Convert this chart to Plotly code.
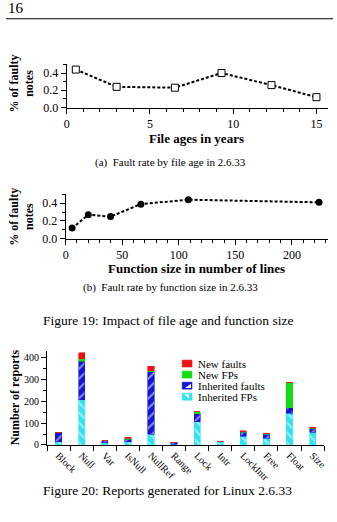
import plotly.graph_objects as go

# ---------------- data ----------------
page_number = "16"

age_years = [0.55, 3.0, 6.5, 9.3, 12.3, 15.0]
age_fault_rate = [0.44, 0.24, 0.23, 0.40, 0.26, 0.12]

func_size = [5.7, 20, 39.7, 66.5, 108.5, 224]
func_fault_rate = [0.12, 0.27, 0.25, 0.39, 0.44, 0.41]

categories = ["Block", "Null", "Var", "IsNull", "NullRef", "Range",
              "Lock", "Intr", "LockIntr", "Free", "Float", "Size"]
inherited_fps = [15, 207, 10, 14, 49, 3, 105, 14, 39, 30, 144, 57]
inherited_faults = [42, 175, 9, 13, 285, 9, 37, 3, 19, 19, 25, 17]
new_fps = [0, 12, 0, 3, 4, 0, 9, 0, 3, 4, 118, 2]
new_faults = [0, 27, 0, 5, 22, 0, 1, 0, 3, 1, 0, 4]

FONT = "Liberation Serif"
W, H = 337, 522
RED, GREEN, BLUE, CYAN = "#ee1111", "#11dd11", "#1414d8", "#30e2f2"


def px(x):
    return x / W


def py(y):
    return 1 - y / H


fig = go.Figure()

# (a) fault rate by file age
fig.add_trace(go.Scatter(
    x=age_years, y=age_fault_rate, mode="lines+markers",
    line=dict(color="black", width=2, dash="3px,2px"),
    marker=dict(symbol="square", size=7, color="white",
                line=dict(color="black", width=1)),
    xaxis="x", yaxis="y", showlegend=False))

# (b) fault rate by function size
fig.add_trace(go.Scatter(
    x=func_size, y=func_fault_rate, mode="lines+markers",
    line=dict(color="black", width=2, dash="3px,2px"),
    marker=dict(symbol="circle", size=7, color="black"),
    xaxis="x2", yaxis="y2", showlegend=False))

# (c) stacked bars
series = [
    ("Inherited FPs", inherited_fps, CYAN, "\\"),
    ("Inherited faults", inherited_faults, BLUE, "/"),
    ("New FPs", new_fps, GREEN, ""),
    ("New faults", new_faults, RED, ""),
]
for name, vals, col, shp in series:
    marker = dict(color=col, line=dict(color=col, width=0.6))
    if shp:
        marker["pattern"] = dict(shape=shp, fgcolor="white", bgcolor=col,
                                 size=7, solidity=0.28)
    fig.add_trace(go.Bar(
        x=categories, y=vals, name=name, width=0.27,
        marker=marker, xaxis="x3", yaxis="y3", showlegend=False))

axis_common = dict(showline=True, linecolor="black", linewidth=1,
                   ticks="outside", tickcolor="black", ticklen=5,
                   showgrid=False, zeroline=False,
                   tickfont=dict(family=FONT, size=12, color="black"))

fig.update_layout(
    width=W, height=H, margin=dict(l=0, r=0, t=0, b=0),
    paper_bgcolor="white", plot_bgcolor="white",
    barmode="stack", bargap=0.7,
    font=dict(family=FONT, color="black"),
    xaxis=dict(domain=[px(65), px(332)], anchor="y", range=[0, 15.7],
               tick0=0, dtick=5,
               minor=dict(dtick=1, ticks="outside", ticklen=3, tickcolor="black"),
               **axis_common),
    yaxis=dict(domain=[py(109), py(65)], anchor="x", range=[0, 0.503],
               tick0=0, dtick=0.2, tickformat=".1f",
               minor=dict(dtick=0.1, ticks="outside", ticklen=3, tickcolor="black"),
               **axis_common),
    xaxis2=dict(domain=[px(64), px(332)], anchor="y2", range=[0, 232],
                tick0=0, dtick=50,
                minor=dict(dtick=10, ticks="outside", ticklen=3, tickcolor="black"),
                **axis_common),
    yaxis2=dict(domain=[py(242), py(197)], anchor="x2", range=[0, 0.5],
                tick0=0, dtick=0.2, tickformat=".1f",
                minor=dict(dtick=0.1, ticks="outside", ticklen=3, tickcolor="black"),
                **axis_common),
    xaxis3=dict(domain=[px(45), px(328)], anchor="y3", type="category",
                range=[-0.5, 11.5], tickangle=45, tickson="boundaries",
                showline=True, linecolor="black", linewidth=1,
                ticks="outside", tickcolor="black", ticklen=5,
                showgrid=False, zeroline=False,
                tickfont=dict(family=FONT, size=10, color="black")),
    yaxis3=dict(domain=[py(451), py(356)], anchor="x3", range=[0, 428],
                tick0=0, dtick=100,
                minor=dict(dtick=50, ticks="outside", ticklen=3, tickcolor="black"),
                showline=True, linecolor="black", linewidth=1,
                ticks="outside", tickcolor="black", ticklen=5,
                showgrid=False, zeroline=False,
                tickfont=dict(family=FONT, size=10, color="black")),
)

ann = []


def text(x, y, s, size, bold=False, xanchor="center", angle=0):
    if bold:
        s = "<b>" + s + "</b>"
    ann.append(dict(x=px(x), y=py(y), xref="paper", yref="paper", text=s,
                    showarrow=False, xanchor=xanchor, yanchor="middle",
                    textangle=angle,
                    font=dict(family=FONT, size=size, color="black")))


text(3, 8, page_number, 15, xanchor="left")
text(19, 85, "% of faulty<br>notes", 12, bold=True, angle=-90)
text(198, 140, "File ages in years", 13, bold=True)
text(171, 165, "(a)  Fault rate by file age in 2.6.33", 11)
text(19, 220, "% of faulty<br>notes", 12, bold=True, angle=-90)
text(198, 272, "Function size in number of lines", 13, bold=True)
text(171, 291, "(b)  Fault rate by function size in 2.6.33", 11)
text(168, 325, "Figure 19: Impact of file age and function size", 13.5)
text(12, 403, "Number of reports", 12, bold=True, angle=-90)
text(168, 497, "Figure 20: Reports generated for Linux 2.6.33", 13.5)

# compact legend drawn with shapes and text
legend_items = [("New faults", RED, None), ("New FPs", GREEN, None),
                ("Inherited faults", BLUE, "lr"), ("Inherited FPs", CYAN, "ul")]
shapes = [dict(type="line", xref="paper", yref="paper",
               x0=px(3), x1=px(337), y0=py(19), y1=py(19),
               line=dict(color="black", width=1))]
for i, (name, col, tri) in enumerate(legend_items):
    yc = 368.5 + 11.2 * i
    x0, x1, y0, y1 = 183, 193, yc - 3.5, yc + 3.5
    shapes.append(dict(type="rect", xref="paper", yref="paper",
                       x0=px(x0), x1=px(x1), y0=py(y1), y1=py(y0),
                       fillcolor=col, line=dict(color=col, width=0.6)))
    if tri == "lr":
        path = "M {} {} L {} {} L {} {} Z".format(
            px(x1 - 1), py(y0 + 1.5), px(x1 - 1), py(y1 - 1), px(x0 + 3), py(y1 - 1))
        shapes.append(dict(type="path", xref="paper", yref="paper", path=path,
                           fillcolor="white", line=dict(width=0)))
    elif tri == "ul":
        path = "M {} {} L {} {} L {} {} Z".format(
            px(x0 + 2), py(y0 + 1), px(x1 - 3), py(y0 + 1), px(x1 - 3), py(y1 - 1.5))
        shapes.append(dict(type="path", xref="paper", yref="paper", path=path,
                           fillcolor="white", line=dict(width=0)))
    text(197, yc, name, 11, xanchor="left")

fig.update_layout(annotations=ann, shapes=shapes)

fig.write_html("out.html")
